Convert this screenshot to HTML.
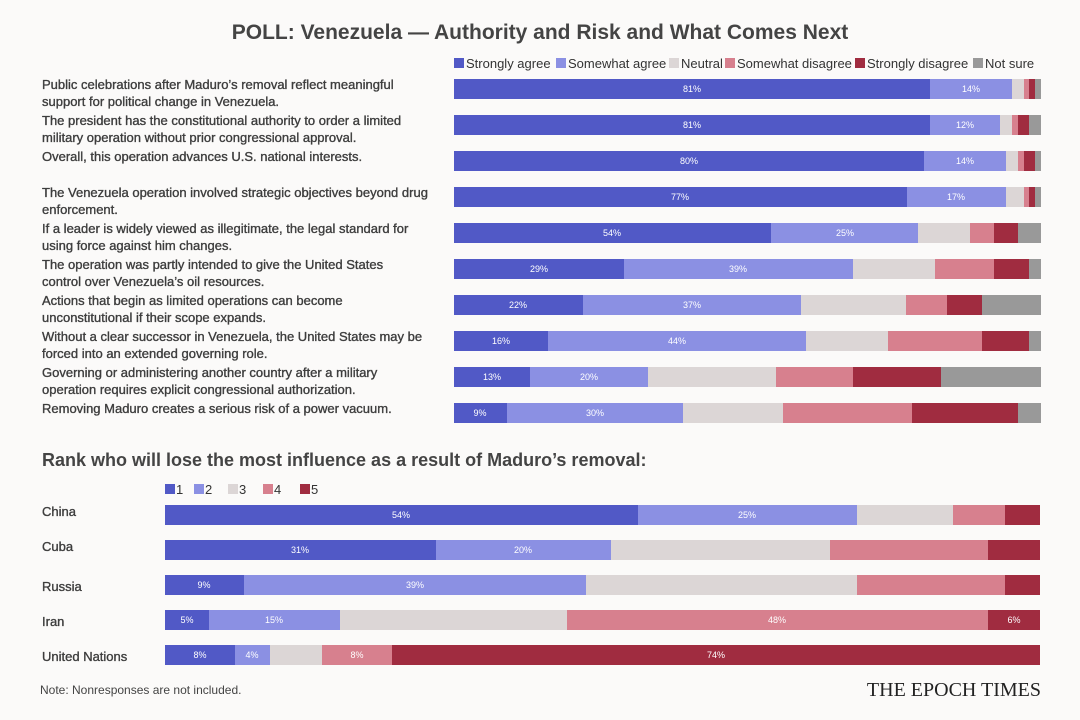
<!DOCTYPE html>
<html><head><meta charset="utf-8"><style>
html,body{margin:0;padding:0;background:#fbfaf9;}
svg{display:block;font-family:"Liberation Sans",sans-serif;}
.lab{font-size:13px;fill:#3d3d3d;stroke:#3d3d3d;stroke-width:0.35;}
.pct{font-size:9px;fill:#fff;text-anchor:middle;}
.leg{font-size:13px;fill:#333;}
</style></head><body>
<svg id="s" width="1080" height="720" viewBox="0 0 1080 720">
<rect width="1080" height="720" fill="#fbfaf9"/>
<text x="540" y="39" text-anchor="middle" font-size="21" font-weight="bold" fill="#444">POLL: Venezuela — Authority and Risk and What Comes Next</text>
<g class="leg">
<rect x="454" y="58" width="10" height="10" fill="#5159c6"/><text x="466" y="68">Strongly agree</text>
<rect x="556" y="58" width="10" height="10" fill="#8b90e3"/><text x="568" y="68">Somewhat agree</text>
<rect x="669" y="58" width="10" height="10" fill="#dcd6d6"/><text x="681" y="68">Neutral</text>
<rect x="725" y="58" width="10" height="10" fill="#d7808e"/><text x="737" y="68">Somewhat disagree</text>
<rect x="855" y="58" width="10" height="10" fill="#a02c40"/><text x="867" y="68">Strongly disagree</text>
<rect x="973" y="58" width="10" height="10" fill="#999"/><text x="985" y="68">Not sure</text>
</g>
<g id="bars"></g>
<g class="lab">
<text x="42" y="89">Public celebrations after Maduro’s removal reflect meaningful</text>
<text x="42" y="106">support for political change in Venezuela.</text>
<text x="42" y="125">The president has the constitutional authority to order a limited</text>
<text x="42" y="142">military operation without prior congressional approval.</text>
<text x="42" y="161">Overall, this operation advances U.S. national interests.</text>
<text x="42" y="197">The Venezuela operation involved strategic objectives beyond drug</text>
<text x="42" y="214">enforcement.</text>
<text x="42" y="233">If a leader is widely viewed as illegitimate, the legal standard for</text>
<text x="42" y="250">using force against him changes.</text>
<text x="42" y="269">The operation was partly intended to give the United States</text>
<text x="42" y="286">control over Venezuela’s oil resources.</text>
<text x="42" y="305">Actions that begin as limited operations can become</text>
<text x="42" y="322">unconstitutional if their scope expands.</text>
<text x="42" y="341">Without a clear successor in Venezuela, the United States may be</text>
<text x="42" y="358">forced into an extended governing role.</text>
<text x="42" y="377">Governing or administering another country after a military</text>
<text x="42" y="394">operation requires explicit congressional authorization.</text>
<text x="42" y="413">Removing Maduro creates a serious risk of a power vacuum.</text>
</g>
<text x="42" y="466" font-size="18" font-weight="bold" fill="#444">Rank who will lose the most influence as a result of Maduro’s removal:</text>
<g class="leg">
<rect x="165" y="484" width="10" height="10" fill="#5159c6"/><text x="176" y="494">1</text>
<rect x="194" y="484" width="10" height="10" fill="#8b90e3"/><text x="205" y="494">2</text>
<rect x="228" y="484" width="10" height="10" fill="#dcd6d6"/><text x="239" y="494">3</text>
<rect x="263" y="484" width="10" height="10" fill="#d7808e"/><text x="274" y="494">4</text>
<rect x="300" y="484" width="10" height="10" fill="#a02c40"/><text x="311" y="494">5</text>
</g>
<g class="lab">
<text x="42" y="516">China</text>
<text x="42" y="551">Cuba</text>
<text x="42" y="591">Russia</text>
<text x="42" y="626">Iran</text>
<text x="42" y="661">United Nations</text>
</g>
<g id="pctg" class="pct">
<text x="692" y="92">81%</text><text x="971" y="92">14%</text>
<text x="692" y="128">81%</text><text x="965" y="128">12%</text>
<text x="689" y="164">80%</text><text x="965" y="164">14%</text>
<text x="680" y="200">77%</text><text x="956" y="200">17%</text>
<text x="612" y="236">54%</text><text x="845" y="236">25%</text>
<text x="539" y="272">29%</text><text x="738" y="272">39%</text>
<text x="518" y="308">22%</text><text x="692" y="308">37%</text>
<text x="501" y="344">16%</text><text x="677" y="344">44%</text>
<text x="492" y="380">13%</text><text x="589" y="380">20%</text>
<text x="480" y="416">9%</text><text x="595" y="416">30%</text>
<text x="401" y="518">54%</text><text x="747" y="518">25%</text>
<text x="300" y="553">31%</text><text x="523" y="553">20%</text>
<text x="204" y="588">9%</text><text x="415" y="588">39%</text>
<text x="187" y="623">5%</text><text x="274" y="623">15%</text><text x="777" y="623">48%</text><text x="1014" y="623">6%</text>
<text x="200" y="658">8%</text><text x="252" y="658">4%</text><text x="357" y="658">8%</text><text x="716" y="658">74%</text>
</g>
<text x="40" y="694" font-size="12" fill="#444">Note: Nonresponses are not included.</text>
<text x="1041" y="696" text-anchor="end" font-family="Liberation Serif" font-size="20" fill="#222">THE EPOCH TIMES</text>
</svg>
<script>
(function(){
var C=["#5159c6","#8b90e3","#dcd6d6","#d7808e","#a02c40","#999"];
var rows=[[89,[454,930,1012,1024,1029,1035,1041]],[125,[454,930,1000,1012,1018,1029,1041]],[161,[454,924,1006,1018,1024,1035,1041]],[197,[454,907,1006,1024,1029,1035,1041]],[233,[454,771,918,970,994,1018,1041]],[269,[454,624,853,935,994,1029,1041]],[305,[454,583,801,906,947,982,1041]],[341,[454,548,806,888,982,1029,1041]],[377,[454,530,648,776,853,941,1041]],[413,[454,507,683,783,912,1018,1041]],
[515,[165,638,857,953,1005,1040]],[550,[165,436,611,830,988,1040]],[585,[165,244,586,857,1005,1040]],[620,[165,209,340,567,988,1040]],[655,[165,235,270,322,392,1040]]];
var NS="http://www.w3.org/2000/svg";
var g=document.getElementById("bars");
rows.forEach(function(r){var y=r[0],b=r[1];for(var i=0;i<b.length-1;i++){var e=document.createElementNS(NS,"rect");e.setAttribute("x",b[i]);e.setAttribute("y",y-10);e.setAttribute("width",b[i+1]-b[i]);e.setAttribute("height",20);e.setAttribute("fill",C[i]);g.appendChild(e);}});
})();
</script>
</body></html>
